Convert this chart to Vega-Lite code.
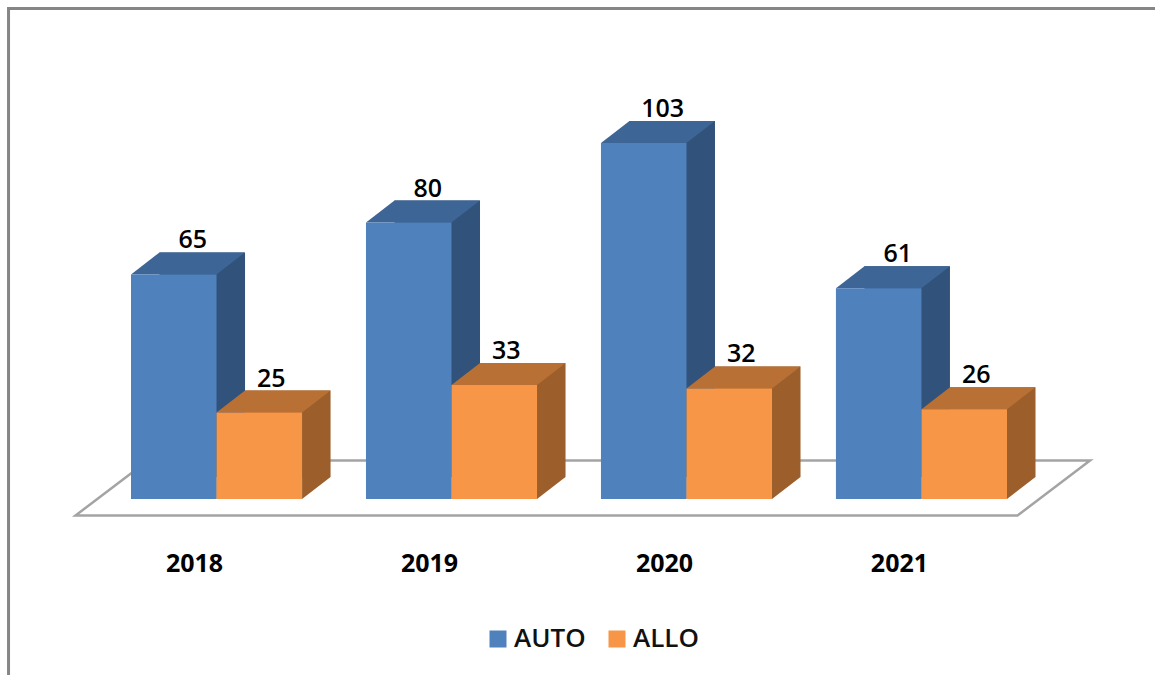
{
"$schema":"https://vega.github.io/schema/vega-lite/v6.json",
"width":1155,"height":675,"padding":0,"autosize":{"type":"none"},"background":"white",
"config":{"view":{"stroke":null}},
"data":{"values":[
{"year":"2018","series":"AUTO","value":65},{"year":"2018","series":"ALLO","value":25},
{"year":"2019","series":"AUTO","value":80},{"year":"2019","series":"ALLO","value":33},
{"year":"2020","series":"AUTO","value":103},{"year":"2020","series":"ALLO","value":32},
{"year":"2021","series":"AUTO","value":61},{"year":"2021","series":"ALLO","value":26}]},
"encoding":{
"x":{"field":"year","type":"nominal","title":null,"axis":null,"scale":{"type":"band","domain":["2018","2019","2020","2021"],"range":[131,1007],"paddingInner":0.272,"paddingOuter":0}},
"y":{"field":"value","type":"quantitative","title":null,"axis":null,"scale":{"domain":[0,144.4],"range":[499,0],"nice":false,"zero":true}}
},
"layer":[
{"transform":[{"filter":"datum.year === '2018' && datum.series === 'AUTO'"}],"mark":{"type":"point","size":4,"filled":false,"stroke":"#868686","strokeWidth":3,"opacity":1,"shape":"M-208 190V-490.5H950"},"encoding":{"y":{"datum":0,"axis":null,"scale":{"domain":[0,144.4],"range":[499,0],"nice":false,"zero":true}},
"x":{"field":"year","type":"nominal","title":null,"scale":{"type":"band","domain":["2018","2019","2020","2021"],"range":[131,1007],"paddingInner":0.272,"paddingOuter":0},
"axis":{"orient":"bottom","offset":-112,"domain":false,"ticks":false,"grid":false,"labelAngle":0,"labelPadding":0,"labelBaseline":"middle","labelOffset":-22,"labelFont":"Open Sans","labelFontWeight":"bold","labelFontSize":25,"labelColor":"#000000"}}}},
{"transform":[{"filter":"datum.year === '2018' && datum.series === 'AUTO'"}],"mark":{"type":"point","size":4,"filled":true,"fill":"#ffffff","stroke":"#a4a4a4","strokeWidth":2.5,"opacity":1,"shape":"M-141 16.5L801 16.5L873.5 -38.5L-68.5 -38.5Z"},"encoding":{"y":{"datum":0,"axis":null,"scale":{"domain":[0,144.4],"range":[499,0],"nice":false,"zero":true}}}},
{"mark":{"type":"bar"},"encoding":{
"x":{"field":"year","type":"nominal","title":null,"axis":null,"scale":{"type":"band","domain":["2018","2019","2020","2021"],"range":[159.5,1035.5],"paddingInner":0.272,"paddingOuter":0}},
"y":{"field":"value","type":"quantitative","title":null,"axis":null,"scale":{"domain":[0,144.4],"range":[477,-22],"nice":false,"zero":true}},
"xOffset":{"field":"series","type":"nominal","scale":{"type":"band","domain":["AUTO","ALLO"],"paddingInner":0,"paddingOuter":0}},
"color":{"field":"series","type":"nominal","legend":null,"scale":{"domain":["AUTO","ALLO"],"range":["#31527A","#9C5F2B"]}}}},
{"mark":{"type":"point","size":4,"filled":true,"opacity":1,"strokeWidth":0,"shape":"M42.75 0L71.25 -22L42.75 -22Z"},"encoding":{
"y":{"datum":0,"axis":null,"scale":{"domain":[0,144.4],"range":[499,0],"nice":false,"zero":true}},
"xOffset":{"field":"series","type":"nominal","scale":{"type":"band","domain":["AUTO","ALLO"],"paddingInner":0,"paddingOuter":0}},
"fill":{"field":"series","type":"nominal","legend":null,"scale":{"domain":["AUTO","ALLO"],"range":["#31527A","#9C5F2B"]}}}},
{"mark":{"type":"point","size":4,"filled":true,"opacity":1,"strokeWidth":0,"shape":"M-42.75 0L42.75 0L71.25 -22L-14.25 -22Z"},"encoding":{
"xOffset":{"field":"series","type":"nominal","scale":{"type":"band","domain":["AUTO","ALLO"],"paddingInner":0,"paddingOuter":0}},
"fill":{"field":"series","type":"nominal","legend":null,"scale":{"domain":["AUTO","ALLO"],"range":["#3D6595","#B97035"]}}}},
{"mark":{"type":"bar"},"encoding":{
"xOffset":{"field":"series","type":"nominal","scale":{"type":"band","domain":["AUTO","ALLO"],"paddingInner":0,"paddingOuter":0}},
"color":{"field":"series","type":"nominal","title":null,"scale":{"domain":["AUTO","ALLO"],"range":["#4F81BD","#F79646"]},
"legend":{"orient":"none","legendX":485,"legendY":626,"direction":"horizontal","columns":2,"title":null,"symbolType":"square","symbolSize":289,"symbolStrokeWidth":0,"labelFont":"Open Sans","labelFontWeight":600,"labelFontSize":26,"labelColor":"#111111","columnPadding":18,"labelOffset":3,"padding":0}}}},
{"transform":[{"filter":"datum.series === 'AUTO'"}],"mark":{"type":"text","dx":19,"dy":-34,"baseline":"middle","font":"Open Sans","fontWeight":600,"fontSize":25,"color":"#000000"},"encoding":{
"xOffset":{"field":"series","type":"nominal","scale":{"type":"band","domain":["AUTO","ALLO"],"paddingInner":0,"paddingOuter":0}},
"text":{"field":"value","type":"quantitative"}}},
{"transform":[{"filter":"datum.series === 'ALLO'"}],"mark":{"type":"text","dx":12,"dy":-34,"baseline":"middle","font":"Open Sans","fontWeight":600,"fontSize":25,"color":"#000000"},"encoding":{
"xOffset":{"field":"series","type":"nominal","scale":{"type":"band","domain":["AUTO","ALLO"],"paddingInner":0,"paddingOuter":0}},
"text":{"field":"value","type":"quantitative"}}}
],
"resolve":{"scale":{"x":"independent","y":"independent","color":"independent","fill":"independent"},"axis":{"x":"independent","y":"independent"}}
}
